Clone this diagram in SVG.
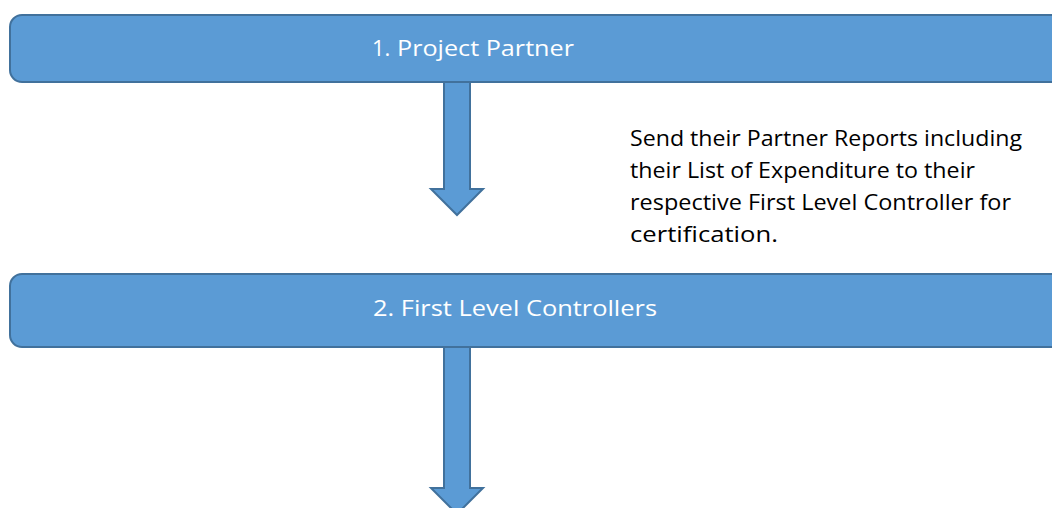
<svg xmlns="http://www.w3.org/2000/svg" width="1052" height="508" viewBox="0 0 1052 508">
<style>
.box{fill:#5B9BD5;stroke:#41719C;stroke-width:2}
.arr{fill:#5B9BD5;stroke:#41719C;stroke-width:2;stroke-linejoin:miter}
.lbl{font-family:"Open Sans","Noto Sans",sans-serif;font-size:22px;fill:#ffffff}
.note{font-family:"Open Sans","Noto Sans",sans-serif;font-size:22px;fill:#000000}
</style>
<rect width="1052" height="508" fill="#ffffff"/>
<g id="connectors">
<path class="arr" d="M444,81 L470,81 L470,189 L483,189 L457,215 L431,189 L444,189 Z"/>
<path class="arr" d="M444,346 L470,346 L470,488 L483,488 L457,514 L431,488 L444,488 Z"/>
</g>
<g id="node1">
<rect class="box" x="10" y="15" width="1070" height="67" rx="12"/>
<text class="lbl" x="372" y="56">1.</text>
<text class="lbl" x="397" y="56" textLength="177" lengthAdjust="spacingAndGlyphs">Project Partner</text>
</g>
<g id="node2">
<rect class="box" x="10" y="274" width="1070" height="73" rx="12"/>
<text class="lbl" x="373" y="316" textLength="284" lengthAdjust="spacingAndGlyphs">2. First Level Controllers</text>
</g>
<g id="note">
<text class="note" x="630" y="146" textLength="392" lengthAdjust="spacingAndGlyphs">Send their Partner Reports including</text>
<text class="note" x="630" y="178" textLength="345" lengthAdjust="spacingAndGlyphs">their List of Expenditure to their</text>
<text class="note" x="630" y="210" textLength="381" lengthAdjust="spacingAndGlyphs">respective First Level Controller for</text>
<text class="note" x="630" y="242" textLength="148" lengthAdjust="spacingAndGlyphs">certification.</text>
</g>
</svg>
